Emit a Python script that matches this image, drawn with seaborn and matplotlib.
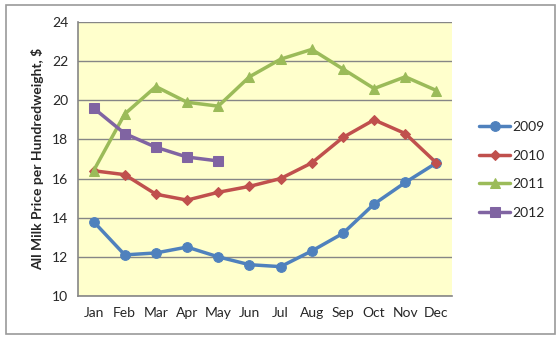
import matplotlib
matplotlib.use("Agg")
import matplotlib.pyplot as plt
import seaborn as sns
import pandas as pd
import numpy as np
from matplotlib.patches import Rectangle

months = ["Jan", "Feb", "Mar", "Apr", "May", "Jun", "Jul", "Aug", "Sep", "Oct", "Nov", "Dec"]
price_2009 = [13.8, 12.1, 12.2, 12.5, 12.0, 11.6, 11.5, 12.3, 13.2, 14.7, 15.8, 16.8]
price_2010 = [16.4, 16.2, 15.2, 14.9, 15.3, 15.6, 16.0, 16.8, 18.1, 19.0, 18.3, 16.8]
price_2011 = [16.4, 19.3, 20.7, 19.9, 19.7, 21.2, 22.1, 22.6, 21.6, 20.6, 21.2, 20.5]
price_2012 = [19.6, 18.3, 17.6, 17.1, 16.9]

series = {"2009": price_2009, "2010": price_2010, "2011": price_2011, "2012": price_2012}
rows = []
for year, vals in series.items():
    for i, v in enumerate(vals):
        rows.append({"month": i, "year": year, "price": v})
df = pd.DataFrame(rows)

palette = {"2009": "#4F81BD", "2010": "#C0504D", "2011": "#9BBB59", "2012": "#8064A2"}
markers = {"2009": "o", "2010": "D", "2011": "^", "2012": "s"}
msizes = {"2009": 7, "2010": 5.5, "2011": 7.5, "2012": 7}

sns.set_style("white")
plt.rcParams["font.family"] = ["Lato", "DejaVu Sans"]

fig = plt.figure(figsize=(5.58, 3.4), dpi=100)
ax = fig.add_axes([78 / 558, 1 - 296 / 340, (452 - 78) / 558, (296 - 22) / 340])

# outer chart frame
fig.patches.append(Rectangle((6 / 558, 1 - 334 / 340), 549 / 558, 329 / 340,
                             transform=fig.transFigure, fill=False,
                             edgecolor="#9a9a9a", linewidth=1.2, zorder=0))

ax.set_facecolor("#FFFFCC")

for year in series:
    sub = df[df["year"] == year]
    sns.lineplot(data=sub, x="month", y="price", ax=ax, color=palette[year],
                 marker=markers[year], markersize=msizes[year], linewidth=2.5,
                 markeredgecolor=palette[year], label=year)

ax.set_xlim(-0.5, 11.5)
ax.set_ylim(10, 24)
ax.set_yticks(np.arange(10, 25, 2))
ax.set_xticks(np.arange(-0.5, 12, 1))
ax.set_xticklabels([])
ax.set_xticks(np.arange(12), minor=True)
ax.set_xticklabels(months, minor=True)
ax.tick_params(axis="x", which="major", length=5, direction="out", color="#868686", width=1)
ax.tick_params(axis="x", which="minor", length=0, pad=8, labelsize=10)
ax.tick_params(axis="y", which="major", length=4, direction="out", color="#868686", width=1, labelsize=10, pad=3)
ax.grid(axis="y", color="#868686", linewidth=1)
ax.set_axisbelow(True)

for side in ["top", "right"]:
    ax.spines[side].set_visible(False)
for side in ["left", "bottom"]:
    ax.spines[side].set_color("#868686")
    ax.spines[side].set_linewidth(1.2)

ax.set_xlabel("")
ax.set_ylabel("All Milk Price per Hundredweight, $", fontsize=10, fontweight="bold", labelpad=6)

handles, labels = ax.get_legend_handles_labels()
ax.legend(handles, labels, loc="center left", bbox_to_anchor=(1.04, 0.46),
          frameon=False, fontsize=10, handlelength=2.2, labelspacing=1.2,
          handletextpad=0.2)

fig.savefig("out.png", dpi=100)
